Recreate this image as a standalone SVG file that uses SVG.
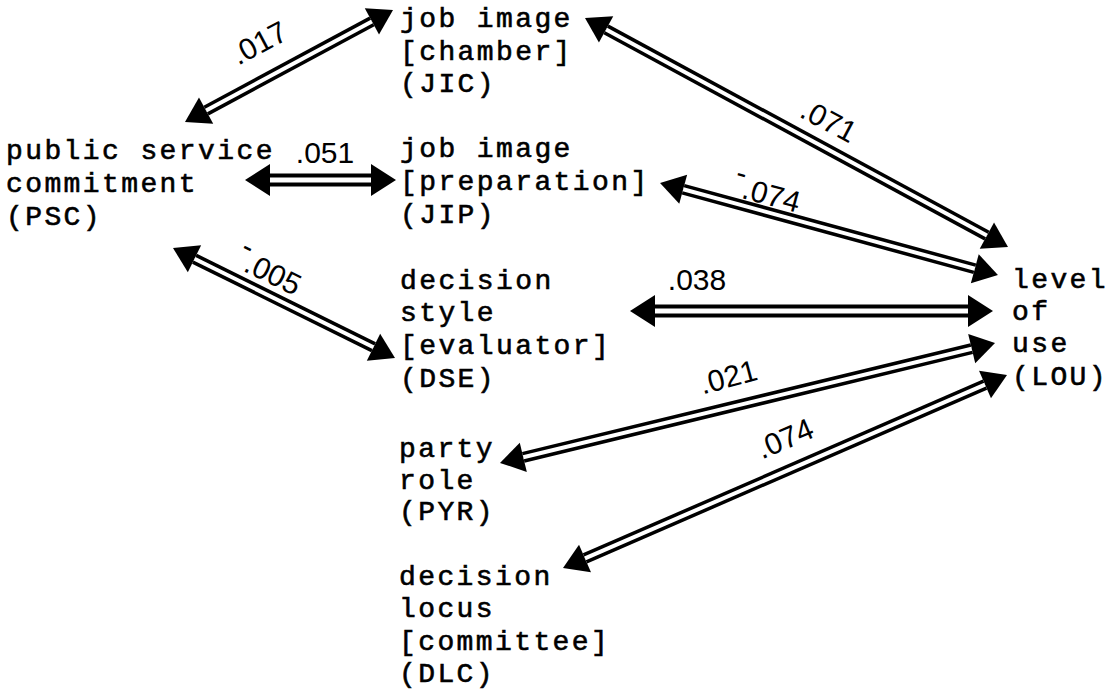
<svg xmlns="http://www.w3.org/2000/svg" xmlns:xlink="http://www.w3.org/1999/xlink" width="1118" height="691" viewBox="0 0 1118 691">
  <style>
    .node text { font-family: "Liberation Mono", "Courier New", monospace; font-size: 28px; letter-spacing: 2.4px; fill: #000; stroke: #000; stroke-width: 0.6px; }
    .lbl { font-family: "Liberation Sans", Arial, sans-serif; font-size: 30px; fill: #000; text-anchor: middle; }
    .outer { fill: none; stroke: #000; stroke-width: 11px; marker-start: url(#head); marker-end: url(#head); }
    .outer.wide { stroke-width: 13px; marker-start: url(#headW); marker-end: url(#headW); }
    .inner { fill: none; stroke: #fff; stroke-width: 4px; }
    .inner.wide { stroke-width: 5px; }
  </style>
  <defs>
    <!-- solid triangular arrowhead; base sits on the shaft end -->
    <marker id="head" markerUnits="userSpaceOnUse" viewBox="0 0 24 30" markerWidth="24" markerHeight="30" refX="0" refY="15" orient="auto-start-reverse" overflow="visible">
      <path d="M0,0 L24,15 L0,30 Z" fill="#000"/>
    </marker>
    <marker id="headW" markerUnits="userSpaceOnUse" viewBox="0 0 25 32" markerWidth="25" markerHeight="32" refX="0" refY="16" orient="auto-start-reverse" overflow="visible">
      <path d="M0,0 L25,16 L0,32 Z" fill="#000"/>
    </marker>
    <!-- shaft centre lines between the two arrowhead bases -->
    <path id="psc-jic" d="M206.1,110.6 L371.9,21.4"/>
    <path id="psc-jip" d="M270,180 L371,180"/>
    <path id="psc-dse" d="M194.5,258.7 L373.5,347.3"/>
    <path id="jic-lou" d="M606.1,29.4 L986.9,235.6"/>
    <path id="jip-lou" d="M683.2,189.3 L974.8,268.7"/>
    <path id="dse-lou" d="M655,311 L968,311"/>
    <path id="pyr-lou" d="M523.3,457.3 L971.7,348.7"/>
    <path id="dlc-lou" d="M585,558.4 L985,384.6"/>
  </defs>

  <rect width="1118" height="691" fill="#fff"/>

  <!-- double-line, double-headed connectors -->
  <g id="connectors">
    <use xlink:href="#psc-jic" class="outer"/><use xlink:href="#psc-jic" class="inner"/>
    <use xlink:href="#psc-jip" class="outer wide"/><use xlink:href="#psc-jip" class="inner wide"/>
    <use xlink:href="#psc-dse" class="outer"/><use xlink:href="#psc-dse" class="inner"/>
    <use xlink:href="#jic-lou" class="outer"/><use xlink:href="#jic-lou" class="inner"/>
    <use xlink:href="#jip-lou" class="outer"/><use xlink:href="#jip-lou" class="inner"/>
    <use xlink:href="#dse-lou" class="outer wide"/><use xlink:href="#dse-lou" class="inner wide"/>
    <use xlink:href="#pyr-lou" class="outer"/><use xlink:href="#pyr-lou" class="inner"/>
    <use xlink:href="#dlc-lou" class="outer"/><use xlink:href="#dlc-lou" class="inner"/>

    <!-- path coefficients -->
    <text class="lbl" x="264" y="52" transform="rotate(-28 264 52)">.017</text>
    <text class="lbl" x="325" y="163">.051</text>
    <text class="lbl" x="264" y="281" transform="rotate(26 264 281)"><tspan dy="-14">-</tspan><tspan dy="14">.005</tspan></text>
    <text class="lbl" x="824" y="130" transform="rotate(28 824 130)">.071</text>
    <text class="lbl" x="764" y="204" transform="rotate(15 764 204)"><tspan dy="-14">-</tspan><tspan dy="14">.074</tspan></text>
    <text class="lbl" x="697" y="290">.038</text>
    <text class="lbl" x="731" y="387" transform="rotate(-15 731 387)">.021</text>
    <text class="lbl" x="789" y="448" transform="rotate(-23 789 448)">.074</text>
  </g>

  <g id="PSC" class="node">
    <text x="6" y="159">public service</text>
    <text x="6" y="192">commitment</text>
    <text x="6" y="225">(PSC)</text>
  </g>
  <g id="JIC" class="node">
    <text x="400" y="27">job image</text>
    <text x="400" y="60">[chamber]</text>
    <text x="400" y="92">(JIC)</text>
  </g>
  <g id="JIP" class="node">
    <text x="400" y="157">job image</text>
    <text x="400" y="190">[preparation]</text>
    <text x="400" y="223">(JIP)</text>
  </g>
  <g id="DSE" class="node">
    <text x="400" y="289">decision</text>
    <text x="400" y="321">style</text>
    <text x="400" y="354">[evaluator]</text>
    <text x="400" y="387">(DSE)</text>
  </g>
  <g id="PYR" class="node">
    <text x="399" y="457">party</text>
    <text x="399" y="489">role</text>
    <text x="399" y="520">(PYR)</text>
  </g>
  <g id="DLC" class="node">
    <text x="399" y="585">decision</text>
    <text x="399" y="617">locus</text>
    <text x="399" y="650">[committee]</text>
    <text x="399" y="682">(DLC)</text>
  </g>
  <g id="LOU" class="node">
    <text x="1012" y="288">level</text>
    <text x="1012" y="320">of</text>
    <text x="1012" y="352">use</text>
    <text x="1012" y="385">(LOU)</text>
  </g>
</svg>
